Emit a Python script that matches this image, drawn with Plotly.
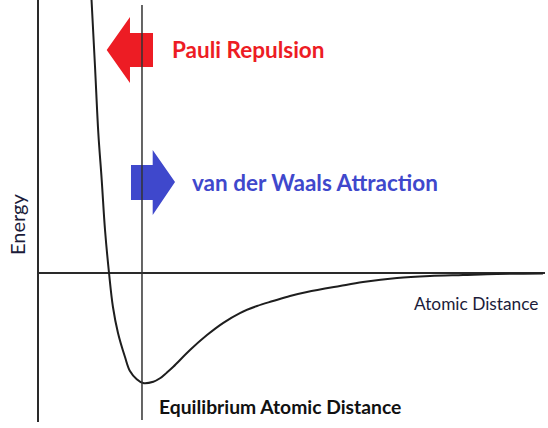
import plotly.graph_objects as go

# Data (distance in units of equilibrium distance, energy in units of well depth)
distance = [0.510, 0.544, 0.576, 0.609, 0.641, 0.680, 0.718, 0.767, 0.835, 0.883, 0.949,
            1.010, 1.110, 1.175, 1.240, 1.304, 1.466, 1.631, 1.786, 1.951, 2.117, 2.272,
            2.437, 2.602, 2.922, 3.146, 3.476, 3.796, 4.117, 4.447, 4.893]
energy = [2.482, 1.873, 1.273, 0.845, 0.391, 0.000, -0.309, -0.545, -0.764, -0.891, -0.966,
          -1.000, -0.988, -0.957, -0.906, -0.852, -0.700, -0.564, -0.455, -0.364, -0.300, -0.255,
          -0.209, -0.173, -0.118, -0.082, -0.045, -0.027, -0.018, -0.009, -0.005]
eq_distance = 1.0

labels = {
    "pauli": "Pauli Repulsion",
    "vdw": "van der Waals Attraction",
    "y": "Energy",
    "x": "Atomic Distance",
    "eq": "Equilibrium Atomic Distance",
}

W, H = 548, 428
ML, MR, MT, MB = 39, 3, 0, 6
PW, PH = W - ML - MR, H - MT - MB


def px(x):
    return (x - ML) / PW


def py(y):
    return (H - MB - y) / PH


def path(pts):
    return "M " + " L ".join(f"{px(a):.4f},{py(b):.4f}" for a, b in pts) + " Z"


RED = "#ed1c24"
BLUE = "#3f48cc"
INK = "#1e1e1e"

fig = go.Figure()
fig.add_trace(go.Scatter(x=distance, y=energy, mode="lines",
                         line=dict(color=INK, width=2, shape="spline", smoothing=1.0),
                         hoverinfo="skip", showlegend=False))

shapes = [
    dict(type="path", xref="paper", yref="paper", fillcolor=RED, line=dict(width=0),
         path=path([(106.7, 50), (130, 17), (130, 33), (153, 33), (153, 67), (130, 67), (130, 83)])),
    dict(type="path", xref="paper", yref="paper", fillcolor=BLUE, line=dict(width=0),
         path=path([(131, 165), (152.7, 165), (152.7, 150), (175, 182), (152.7, 215), (152.7, 200), (131, 200)])),
    dict(type="line", xref="x", yref="paper", x0=eq_distance, x1=eq_distance, y0=py(420), y1=py(5),
         line=dict(color="#333333", width=1.5)),
]

FONT = "Lato"
annotations = [
    dict(text=f"<b>{labels['pauli']}</b>", x=px(170), y=py(49), xanchor="left", yanchor="middle",
         font=dict(family=FONT, size=22.5, color=RED)),
    dict(text=f"<b>{labels['vdw']}</b>", x=px(190), y=py(182), xanchor="left", yanchor="middle",
         font=dict(family=FONT, size=22.5, color=BLUE)),
    dict(text=labels["y"], x=px(17), y=py(225), xanchor="center", yanchor="middle", textangle=-90,
         font=dict(family=FONT, size=20, color="#1c1c3a")),
    dict(text=labels["x"], x=px(412), y=py(303), xanchor="left", yanchor="middle",
         font=dict(family=FONT, size=17.3, color="#1c1c3a")),
    dict(text=f"<b>{labels['eq']}</b>", x=px(157), y=py(406), xanchor="left", yanchor="middle",
         font=dict(family=FONT, size=19.3, color="#111111")),
]
for a in annotations:
    a.update(xref="paper", yref="paper", showarrow=False)

fig.update_layout(
    width=W, height=H,
    margin=dict(l=ML, r=MR, t=MT, b=MB, pad=0),
    paper_bgcolor="white", plot_bgcolor="white",
    shapes=shapes, annotations=annotations,
    xaxis=dict(range=[0, 4.913], showgrid=False, zeroline=False, showticklabels=False,
               showline=False, ticks=""),
    yaxis=dict(range=[-1.3545, 2.482], showgrid=False, zeroline=True, zerolinecolor="#2a2a2a",
               zerolinewidth=2, showticklabels=False, showline=True, linecolor="#2a2a2a",
               linewidth=2, ticks=""),
)

fig.write_html("out.html", config={"displayModeBar": False},
               post_script="document.body.style.margin='0';document.body.style.overflow='hidden';")
